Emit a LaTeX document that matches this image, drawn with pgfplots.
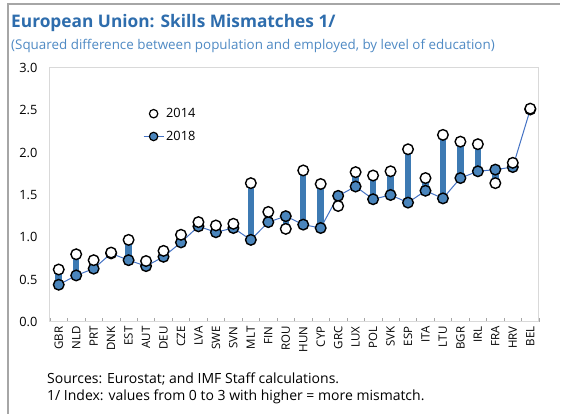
\documentclass[border=0pt]{standalone}
\usepackage{fontspec}
\setmainfont{Open Sans}
\usepackage{pgfplots}
\usepackage{pgfplotstable}
\pgfplotsset{compat=1.18}
\usetikzlibrary{backgrounds}
\definecolor{titleblue}{HTML}{2E6DAD}
\definecolor{subblue}{HTML}{4F8AC4}
\definecolor{barblue}{HTML}{3D7AB3}
\definecolor{markblue}{HTML}{4A85BC}
\definecolor{lineblue}{HTML}{4472C4}
\definecolor{boxgray}{HTML}{D9D9D9}
\definecolor{framegray}{HTML}{A6A6A6}

% i = position, a = 2014, b = 2018
\pgfplotstableread{
i  name a     b
0  GBR  0.62  0.44
1  NLD  0.80  0.55
2  PRT  0.73  0.63
3  DNK  0.82  0.81
4  EST  0.97  0.73
5  AUT  0.72  0.66
6  DEU  0.84  0.77
7  CZE  1.03  0.94
8  LVA  1.18  1.13
9  SWE  1.14  1.06
10 SVN  1.16  1.11
11 MLT  1.64  0.97
12 FIN  1.30  1.18
13 ROU  1.10  1.25
14 HUN  1.79  1.15
15 CYP  1.63  1.11
16 GRC  1.37  1.49
17 LUX  1.77  1.60
18 POL  1.73  1.45
19 SVK  1.78  1.50
20 ESP  2.04  1.41
21 ITA  1.70  1.55
22 LTU  2.21  1.46
23 BGR  2.13  1.70
24 IRL  2.10  1.78
25 FRA  1.64  1.80
26 HRV  1.88  1.83
27 BEL  2.52  2.51
}\datatable

\begin{document}
\begin{tikzpicture}
\begin{axis}[
  scale only axis,
  width=489pt, height=254pt,
  xmin=-0.5, xmax=27.5,
  ymin=0, ymax=3,
  ytick={0,0.5,...,3},
  yticklabel style={font=\fontsize{12.8}{14}\selectfont, xshift=-9pt,
    /pgf/number format/.cd, fixed, fixed zerofill, precision=1},
  /pgf/number format/assume math mode=true,
  xtick=data,
  xticklabels from table={\datatable}{name},
  xticklabel style={font=\fontsize{11.5}{13}\selectfont, rotate=90, anchor=east, xshift=-1pt},
  minor xtick={-0.5,0.5,...,27.5},
  major tick length=0pt,
  minor tick length=4pt,
  tick pos=bottom,
  tick align=inside,
  minor tick style={draw=framegray, line width=0.6pt},
  axis line style={draw=boxgray, line width=1pt},
  clip=false,
  reverse legend,
  legend style={at={(0.19,0.85)}, anchor=north west, draw=none, fill=none,
    font=\fontsize{12.8}{14}\selectfont, row sep=8pt, inner sep=0pt},
  legend cell align=left,
]
\addplot[lineblue, line width=1pt, mark=none, forget plot] table[x=i, y=b] {\datatable};
\addplot[only marks, mark=none, forget plot,
  error bars/.cd, y dir=both, y explicit, error mark=none,
  error bar style={draw=barblue, line width=6.5pt, line cap=butt}]
  table[x=i, y=b,
    y error plus expr={max(\thisrow{a}-\thisrow{b},0)},
    y error minus expr={max(\thisrow{b}-\thisrow{a},0)}] {\datatable};
\addplot[only marks, mark=*, mark size=5.3pt,
  mark options={fill=markblue, draw=black, line width=1.4pt},
  legend image code/.code={
    \draw[lineblue, line width=1pt] (-2pt,0pt) -- (18pt,0pt);
    \draw[black, fill=markblue, line width=1.2pt] (8pt,0pt) circle (4.2pt);}]
  table[x=i, y=b] {\datatable};
\addlegendentry{2018}
\addplot[only marks, mark=*, mark size=5.3pt,
  mark options={fill=white, draw=black, line width=1.4pt},
  legend image code/.code={
    \draw[black, fill=white, line width=1.2pt] (8pt,0pt) circle (4.2pt);}]
  table[x=i, y=a] {\datatable};
\addlegendentry{2014}
\end{axis}
\begin{scope}[x=1pt, y=1pt, shift={(-50pt,-92pt)}]
\begin{pgfonlayer}{background}
\path[fill=white] (0,0) rectangle (566,414);
\end{pgfonlayer}
\path[use as bounding box] (0,0) rectangle (566,414);
\draw[framegray, line width=1.5pt] (8,0) -- (8,410) -- (560,410);
\node[anchor=base west, inner sep=0, font=\bfseries\fontsize{17.3}{20}\selectfont, text=titleblue] at (11,386) {European Union: Skills Mismatches 1/};
\node[anchor=base west, inner sep=0, font=\fontsize{13.4}{15}\selectfont, text=subblue] at (11,364) {(Squared difference between population and employed, by level of education)};
\node[anchor=base west, inner sep=0, font=\fontsize{14}{16}\selectfont] at (47,30) {Sources: Eurostat; and IMF Staff calculations.};
\node[anchor=base west, inner sep=0, font=\fontsize{14}{16}\selectfont] at (47,13) {1/ Index: values from 0 to 3 with higher = more mismatch.};
\end{scope}
\end{tikzpicture}
\end{document}
